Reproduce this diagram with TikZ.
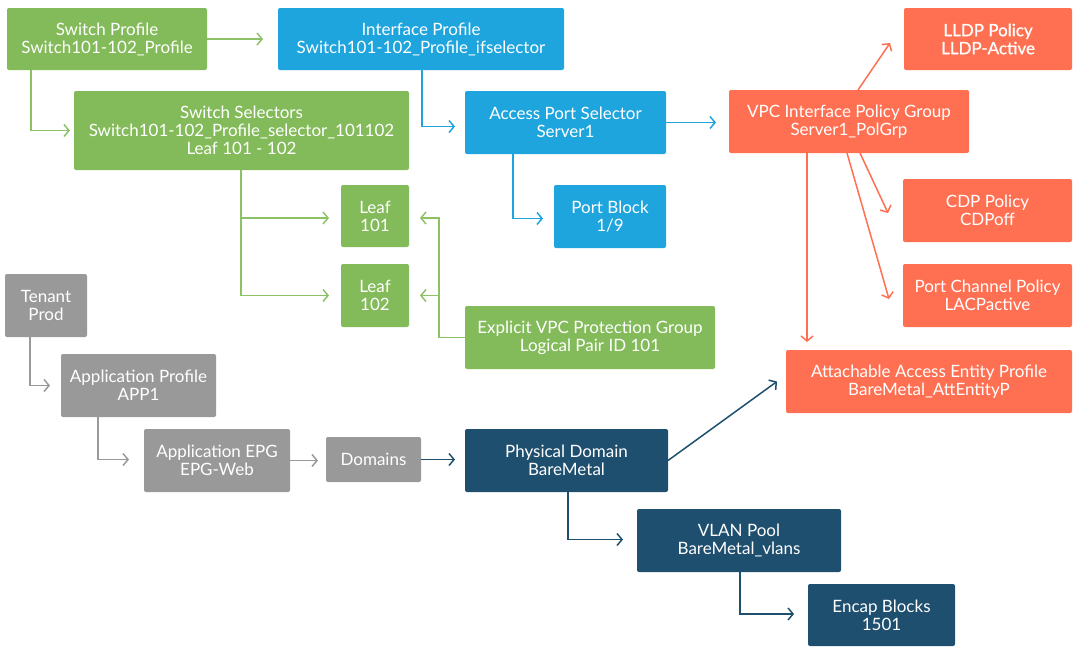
\documentclass[tikz,border=0pt]{standalone}
\usepackage{fontspec}
\setmainfont{Lato}
\newfontface\medface{Lato}[FakeBold=0.8]
\usetikzlibrary{arrows.meta,calc}
\definecolor{cgreen}{HTML}{83BB5A}
\definecolor{cgreenl}{HTML}{8DC165}
\definecolor{cblue}{HTML}{1EA5DE}
\definecolor{corange}{HTML}{FF7052}
\definecolor{cgray}{HTML}{999999}
\definecolor{cdark}{HTML}{1F4F6E}
\tikzset{
  bx/.style={rounded corners=2pt, inner sep=0pt, outer sep=0pt, text=white, align=center,
    font=\fontsize{17}{18}\selectfont},
  gbox/.style={bx, fill=cgreen},
  bbox/.style={bx, fill=cblue},
  obox/.style={bx, fill=corange},
  ybox/.style={bx, fill=cgray},
  dbox/.style={bx, fill=cdark},
  conn/.style={line width=1.5pt, -{Straight Barb[length=5pt,width=12pt,line width=1.5pt]}},
  ga/.style={conn, draw=cgreenl},
  ba/.style={conn, draw=cblue},
  oa/.style={conn, draw=corange},
  ya/.style={conn, draw=cgray},
  da/.style={conn, draw=cdark},
}
\newcommand{\bxnode}[7]{%
  \node[#6, minimum width={(#4)-(#2)}, minimum height={(#5)-(#3)}] (#1) at ({((#2)+(#4))/2},{((#3)+(#5))/2}) {#7};}
\begin{document}
\begin{tikzpicture}[x=1pt,y=-1pt]
\useasboundingbox (0,0) rectangle (1074,646);
% boxes
\bxnode{sp}{7}{8}{207}{70}{gbox}{Switch Profile\\Switch101-102\_Profile}
\bxnode{ip}{278}{8}{564}{70}{bbox}{Interface Profile\\Switch101-102\_Profile\_ifselector}
\bxnode{lldp}{904}{8}{1072}{70}{obox, font=\fontsize{17}{18}\medface}{LLDP Policy\\LLDP-Active}
\bxnode{ss}{74}{91}{409}{170}{gbox}{Switch Selectors\\Switch101-102\_Profile\_selector\_101102\\Leaf 101 - 102}
\bxnode{aps}{465}{91}{666}{154}{bbox}{Access Port Selector\\Server1}
\bxnode{vpc}{729}{90}{969}{153}{obox}{VPC Interface Policy Group\\Server1\_PolGrp}
\bxnode{pb}{554}{185}{666}{248}{bbox}{Port Block\\1/9}
\bxnode{cdp}{903}{179}{1072}{242}{obox}{CDP Policy\\CDPoff}
\bxnode{la}{341}{185}{409}{247}{gbox}{Leaf\\101}
\bxnode{lb}{341}{264}{409}{327}{gbox}{Leaf\\102}
\bxnode{pc}{903}{264}{1072}{327}{obox}{Port Channel Policy\\LACPactive}
\bxnode{tn}{5}{274}{87}{337}{ybox}{Tenant\\Prod}
\bxnode{ev}{465}{306}{715}{369}{gbox}{Explicit VPC Protection Group\\Logical Pair ID 101}
\bxnode{aaep}{786}{350}{1072}{413}{obox}{Attachable Access Entity Profile\\BareMetal\_AttEntityP}
\bxnode{ap}{61}{354}{216}{417}{ybox}{Application Profile\\APP1}
\bxnode{epg}{144}{429}{290}{492}{ybox}{Application EPG\\EPG-Web}
\bxnode{dom}{326}{437}{421}{482}{ybox}{Domains}
\bxnode{pd}{465}{429}{668}{492}{dbox}{Physical Domain\\BareMetal}
\bxnode{vp}{637}{509}{841}{572}{dbox}{VLAN Pool\\BareMetal\_vlans}
\bxnode{eb}{808}{584}{955}{646}{dbox}{Encap Blocks\\1501}
% connectors
\draw[ga, shorten >=15pt] (sp.east) -- (sp.east -| ip.west);
\draw[ga] ([xshift=24pt]sp.south west) |- ([xshift=-4pt]ss.west);
\draw[ba] ([xshift=144pt]ip.south west) |- ([xshift=-10pt,yshift=-4pt]aps.west);
\draw[ba, shorten >=13pt] (aps.east) -- (aps.east -| vpc.west);
\draw[ba] ([xshift=48pt]aps.south west) |- ([xshift=-11pt,yshift=-2pt]pb.west);
\draw[ga] ([xshift=167pt]ss.south west) |- ([xshift=-12pt,yshift=-2pt]la.west);
\draw[ga] ([xshift=167pt]ss.south west) |- ([xshift=-12pt]lb.west);
\coordinate (evk) at ([xshift=-26pt]ev.west);
\draw[ga] (ev.west) -- (evk) |- ([xshift=11pt,yshift=-2pt]la.east);
\draw[ga] (ev.west) -- (evk) |- ([xshift=11pt]lb.east);
\draw[oa] ([xshift=129pt]vpc.north west) -- ([shift={(-14pt,-4pt)}]lldp.west);
\draw[oa] ([xshift=131pt]vpc.south west) -- ([shift={(-15pt,-2.5pt)}]cdp.west);
\draw[oa] ([xshift=118pt]vpc.south west) -- ([shift={(-14pt,-3.5pt)}]pc.west);
\draw[oa, shorten >=8pt] ([xshift=78pt]vpc.south west) -- ([xshift=78pt]vpc.south west |- aaep.north);
\draw[da] (pd.east) -- ([xshift=-9pt]aaep.west);
\draw[da] ([xshift=103pt]pd.south west) |- ([xshift=-14pt,yshift=1pt]vp.west);
\draw[da] ([xshift=103pt]vp.south west) |- ([xshift=-14pt,yshift=1pt]eb.west);
\draw[ya] ([xshift=25pt]tn.south west) |- ([xshift=-11pt]ap.west);
\draw[ya] ([xshift=37pt]ap.south west) |- ([xshift=-15pt,yshift=1pt]epg.west);
\draw[ya, shorten >=8pt] (epg.east) -- (epg.east -| dom.west);
\draw[da, shorten >=10pt] (dom.east) -- (dom.east -| pd.west);
\end{tikzpicture}
\end{document}
